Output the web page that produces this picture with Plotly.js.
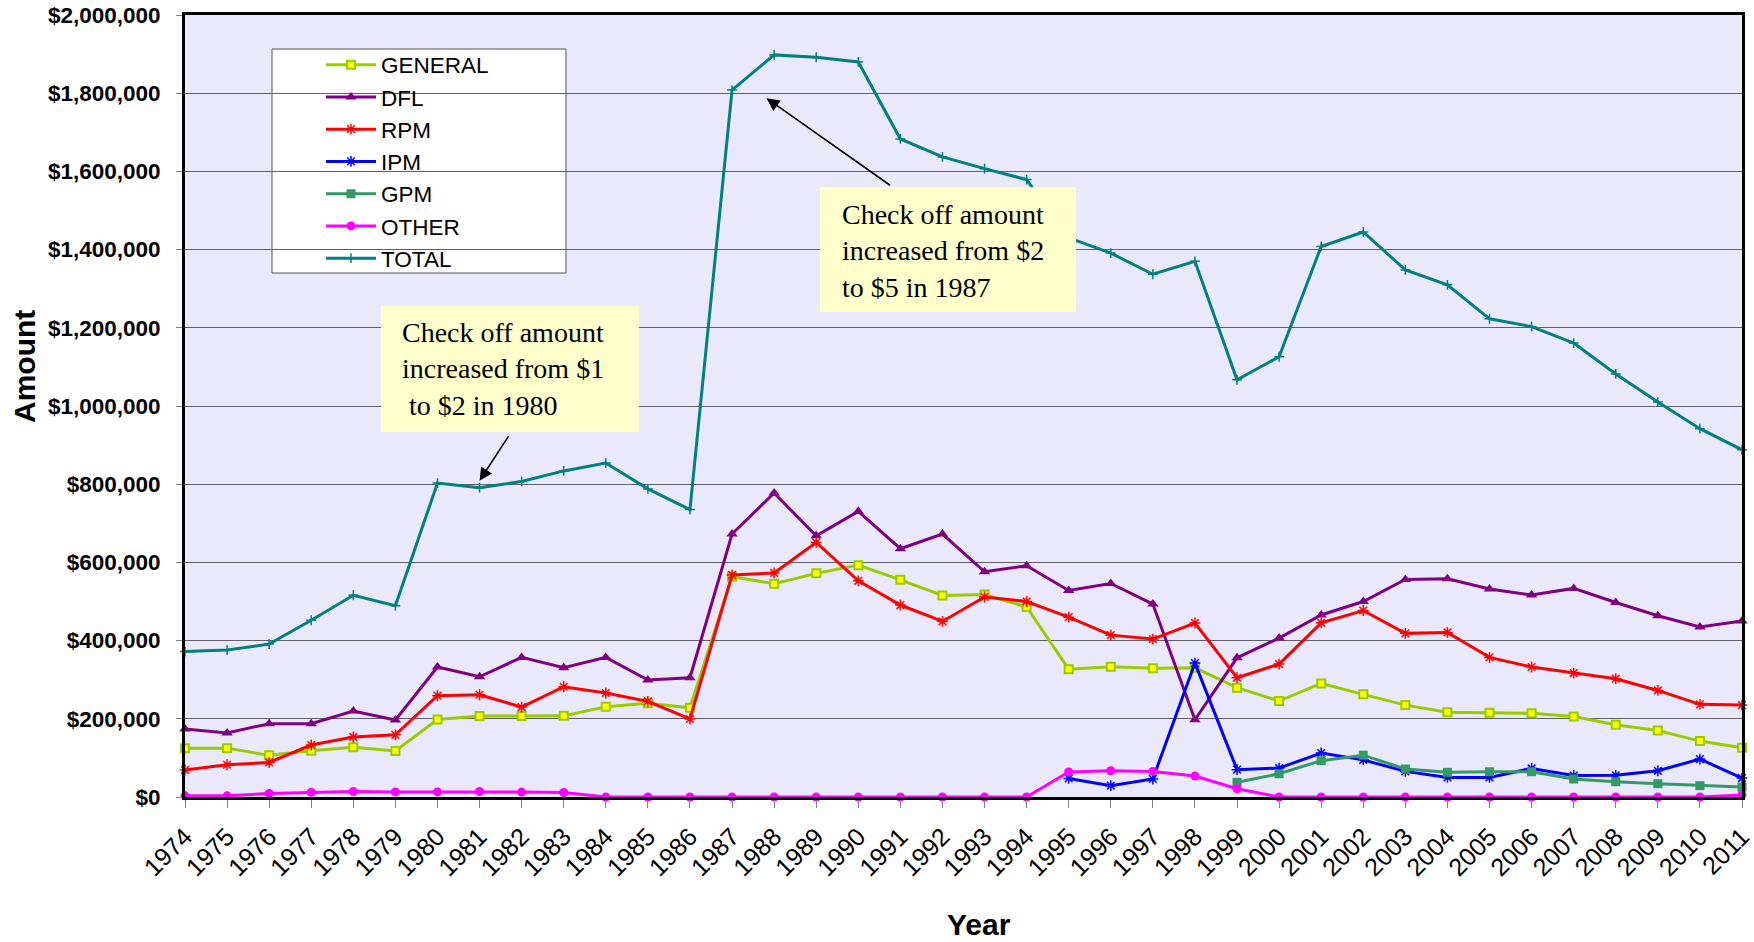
<!DOCTYPE html>
<html>
<head>
<meta charset="utf-8">
<script src="https://cdn.plot.ly/plotly-3.0.1.min.js"></script>
<style>html,body{margin:0;padding:0;background:#fff;}#chart{width:1754px;height:942px;}</style>
</head>
<body>
<div id="chart"></div>
<script>
const years = [1974,1975,1976,1977,1978,1979,1980,1981,1982,1983,1984,1985,1986,1987,1988,1989,1990,1991,1992,1993,1994,1995,1996,1997,1998,1999,2000,2001,2002,2003,2004,2005,2006,2007,2008,2009,2010,2011];

const general = [125000,125000,106500,118000,127000,117500,198500,207000,207000,207500,231000,240000,228000,563500,545500,572000,593000,555500,515500,518000,486000,327000,333000,329000,330500,279500,245500,290500,262500,235000,216500,215500,214000,206000,185000,170000,143000,126000];
const dfl = [174000,164000,187500,187500,220000,197000,332500,307500,357000,330500,357000,299000,305000,672500,777500,668000,730500,635000,672500,576000,591500,528000,546000,493500,197500,356000,406500,465500,500000,556500,558000,532000,516500,533500,497500,463500,435000,450000];
const rpm = [69000,82500,88500,133000,153500,159000,259000,261500,230000,282000,266000,244500,199500,568000,573000,651000,553000,491000,449000,511500,500000,460000,414000,404000,445000,305000,340000,445500,477000,418500,421000,357000,332500,317000,302500,272500,237000,235000];
const ipm = [null,null,null,null,null,null,null,null,null,null,null,null,null,null,null,null,null,null,null,null,null,47500,29000,46000,342500,70000,74000,112500,95000,65500,50000,50000,73000,55000,55500,67000,97000,48500];
const gpm = [null,null,null,null,null,null,null,null,null,null,null,null,null,null,null,null,null,null,null,null,null,null,null,null,null,37500,59500,93000,107000,71500,63000,64500,64500,46000,39000,34000,29000,25500];
const other = [3000,3000,9000,12000,14000,13000,13000,14000,12500,11500,0,0,0,0,0,0,0,0,0,0,0,64000,67000,65500,53500,21000,0,0,0,0,0,0,0,0,0,0,0,5000];
const total = [372000,376000,391000,452000,516000,489000,803000,791000,807000,834000,854000,788000,735000,1808000,1898000,1892000,1880000,1683000,1637000,1607000,1579000,1430000,1391000,1337000,1370000,1067000,1126000,1408000,1445000,1348000,1310000,1223000,1203000,1161000,1082000,1010000,942000,888000];

const seriesNames = ['GENERAL','DFL','RPM','IPM','GPM','OTHER','TOTAL'];
const seriesValues = [general, dfl, rpm, ipm, gpm, other, total];
const seriesColors = ['#99CC00','#800080','#FF0000','#0000FF','#339966','#FF00FF','#008080'];
const seriesMarkers = [
  {symbol:'square', size:8, color:'#FFFF00', line:{color:'#99CC00', width:2}},
  {symbol:'triangle-up', size:10, color:'#800080', line:{width:0}},
  {symbol:'asterisk-open', size:9, color:'#FF0000', line:{color:'#FF0000', width:1.5}},
  {symbol:'asterisk-open', size:9, color:'#0000FF', line:{color:'#0000FF', width:1.5}},
  {symbol:'square', size:9, color:'#339966', line:{width:0}},
  {symbol:'circle', size:9, color:'#FF00FF', line:{width:0}},
  {symbol:'cross-thin-open', size:7, color:'#008080', line:{color:'#008080', width:1.5}}
];

const traces = seriesNames.map((n, i) => ({
  type: 'scatter',
  mode: 'lines+markers',
  name: n,
  legendgroup: n,
  x: years,
  y: seriesValues[i],
  line: {color: seriesColors[i], width: 3},
  marker: seriesMarkers[i],
  cliponaxis: false,
  connectgaps: false
}));

const L = 185, R = 12, T = 15, B = 145;
const W = 1754, H = 942;
const pw = W - L - R, ph = H - T - B;
const px = v => (v - L) / pw;
const py = v => (H - B - v) / ph;

const layout = {
  width: W, height: H,
  margin: {l: L, r: R, t: T, b: B, pad: 0},
  paper_bgcolor: '#FFFFFF',
  plot_bgcolor: '#E9E9FB',
  font: {family: 'Liberation Sans, Arial, sans-serif', color: '#000'},
  showlegend: true,
  legend: {
    x: px(321), y: py(43.5), xanchor: 'left', yanchor: 'top',
    bgcolor: 'rgba(0,0,0,0)', borderwidth: 0,
    font: {size: 22.5, family: 'Liberation Sans, Arial, sans-serif'},
    itemwidth: 50, tracegroupgap: 2, traceorder: 'normal'
  },
  xaxis: {
    type: 'linear', range: [1974, 2011], dtick: 1, tick0: 1974,
    tickangle: -45, ticks: 'outside', ticklen: 8, tickcolor: '#808080', tickwidth: 1,
    showgrid: false, zeroline: false,
    showline: true, linecolor: '#000', linewidth: 3, mirror: true,
    ticklabelstandoff: 4, ticklabeloverflow: 'allow',
    tickfont: {size: 25, family: 'Liberation Sans, Arial, sans-serif'}
  },
  yaxis: {
    range: [0, 2000000], dtick: 200000, tick0: 0,
    tickformat: ',.0f', tickprefix: '$',
    ticks: 'outside', ticklen: 6, tickcolor: '#808080', tickwidth: 1,
    showgrid: true, gridcolor: '#5f5f6a', gridwidth: 1,
    zeroline: false,
    showline: true, linecolor: '#000', linewidth: 3, mirror: true,
    ticklabelstandoff: 11, ticklabeloverflow: 'allow',
    tickfont: {size: 22.5, weight: 'bold', family: 'Liberation Sans, Arial, sans-serif'}
  },
  shapes: [
    {type:'rect', xref:'paper', yref:'paper', x0:px(272), x1:px(566), y0:py(273), y1:py(49),
     fillcolor:'#FFFFFF', line:{color:'#555555', width:1}, layer:'between'},
    {type:'rect', xref:'paper', yref:'paper', x0:px(381), x1:px(639), y0:py(432), y1:py(306),
     fillcolor:'#FFFFCC', line:{width:0}, layer:'above'},
    {type:'rect', xref:'paper', yref:'paper', x0:px(820), x1:px(1076), y0:py(312), y1:py(187),
     fillcolor:'#FFFFCC', line:{width:0}, layer:'above'}
  ],
  annotations: [
    {xref:'paper', yref:'paper', x:px(400), y:py(369), xanchor:'left', yanchor:'middle',
     text:'Check off amount<br>increased from $1<br>\u00a0to $2 in 1980', align:'left', showarrow:false,
     font:{family:'Liberation Serif, Times New Roman, serif', size:28, color:'#000'}},
    {xref:'paper', yref:'paper', x:px(840), y:py(251), xanchor:'left', yanchor:'middle',
     text:'Check off amount<br>increased from $2<br>to $5 in 1987', align:'left', showarrow:false,
     font:{family:'Liberation Serif, Times New Roman, serif', size:28, color:'#000'}},
    {xref:'x', yref:'y', x:1981.0, y:809000, ax:30, ay:-46, text:'', showarrow:true,
     arrowhead:2, arrowsize:1.6, arrowwidth:1.6, arrowcolor:'#000', standoff:0, startstandoff:0},
    {xref:'x', yref:'y', x:1987.82, y:1787000, ax:125, ay:88, text:'', showarrow:true,
     arrowhead:2, arrowsize:1.6, arrowwidth:1.6, arrowcolor:'#000', standoff:0, startstandoff:0},
    {xref:'paper', yref:'paper', x:px(24), y:py(367), xanchor:'center', yanchor:'middle',
     text:'Amount', textangle:-90, showarrow:false,
     font:{size:30, weight:'bold', family:'Liberation Sans, Arial, sans-serif', color:'#000'}},
    {xref:'paper', yref:'paper', x:px(979), y:py(924), xanchor:'center', yanchor:'middle',
     text:'Year', showarrow:false,
     font:{size:30, weight:'bold', family:'Liberation Sans, Arial, sans-serif', color:'#000'}}
  ]
};

Plotly.newPlot('chart', traces, layout, {staticPlot: true, displayModeBar: false});
</script>
</body>
</html>
